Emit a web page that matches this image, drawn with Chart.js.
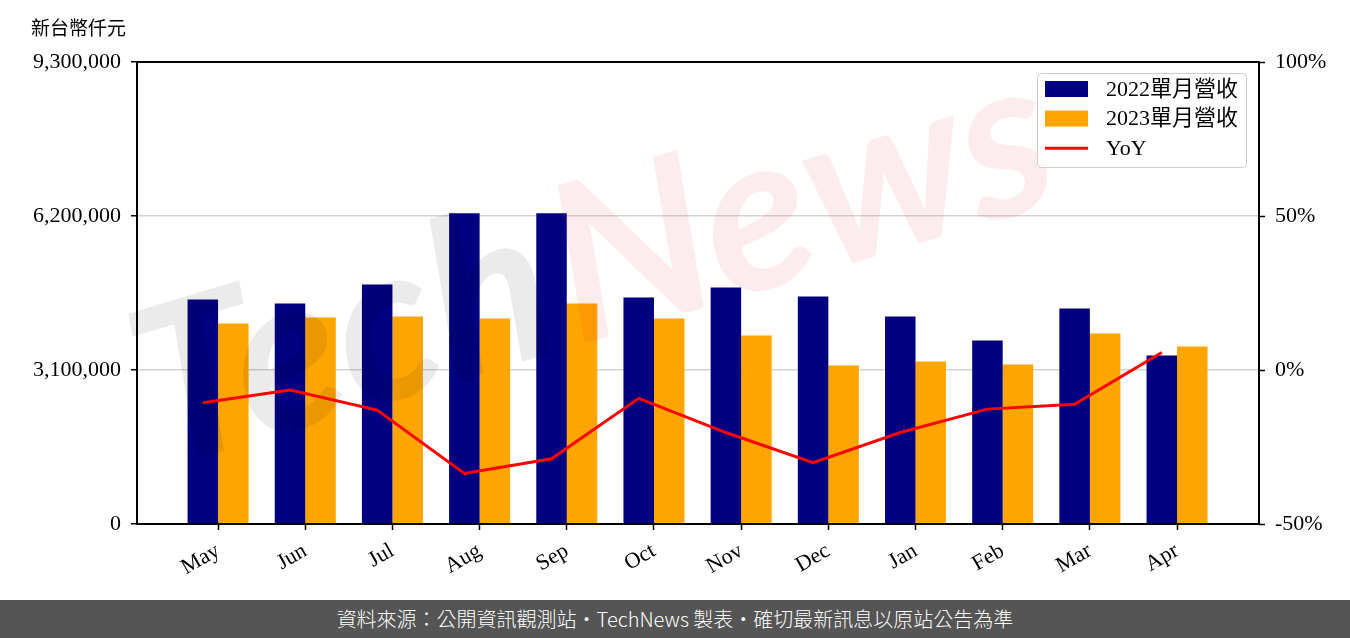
<!DOCTYPE html>
<html lang="zh-TW">
<head>
<meta charset="utf-8">
<script src="https://cdn.jsdelivr.net/npm/chart.js@4.4.0/dist/chart.umd.min.js"></script>
<style>
  body { margin: 0; background: #fff; }
  #wrap { width: 1350px; height: 600px; }
  #foot {
    width: 1350px; height: 38px; background: #555555; color: #fff;
    font: 300 20px 'Noto Sans CJK TC', sans-serif; text-align: center; line-height: 38px;
  }
</style>
</head>
<body>
<div id="wrap"><canvas id="grafico" width="1350" height="600"></canvas></div>
<div id="foot" lang="zh-TW">資料來源：公開資訊觀測站・TechNews 製表・確切最新訊息以原站公告為準</div>
<script>
// datos
const months = ['May', 'Jun', 'Jul', 'Aug', 'Sep', 'Oct', 'Nov', 'Dec', 'Jan', 'Feb', 'Mar', 'Apr']
const rev2022 = [4518000, 4438000, 4820000, 6255000, 6255000, 4558000, 4760000, 4578000, 4176000, 3692000, 4337000, 3390000]
const rev2023 = [4035000, 4156000, 4176000, 4135000, 4438000, 4135000, 3793000, 3189000, 3269000, 3209000, 3833000, 3571000]
const yoy = [-10.6, -6.5, -13.0, -33.6, -28.8, -9.2, -20.3, -30.1, -20.3, -12.7, -11.1, 5.7]
const leftTicks = [0, 3100000, 6200000, 9300000]
const rightTicks = [-50, 0, 50, 100]

const serif = "'Liberation Serif', 'Noto Sans CJK TC', serif"
Chart.defaults.font.family = serif
Chart.defaults.font.size = 22
Chart.defaults.color = '#000'

// marca de agua TechNews encima de las barras, debajo de la linea
const watermark = {
  id: 'watermark',
  beforeDatasetDraw(chart, args) {
    if (args.index !== 2) return
    const c = chart.ctx
    c.save()
    c.translate(160, 470)
    c.rotate(-0.29)
    c.font = 'italic bold 220px Lato'
    c.fillStyle = 'rgba(0,0,0,0.08)'
    c.fillText('Tech', 0, 0)
    const w = c.measureText('Tech').width
    c.fillStyle = 'rgba(220,40,50,0.09)'
    c.fillText('News', w + 10, 0)
    c.restore()
  }
}

const frame = {
  id: 'frame',
  afterDatasetsDraw(chart) {
    const a = chart.chartArea
    const c = chart.ctx
    c.save()
    c.strokeStyle = '#000'
    c.lineWidth = 2
    c.strokeRect(a.left, a.top, a.right - a.left, a.bottom - a.top)
    c.restore()
  }
}

// leyenda dibujada a mano dentro del area del grafico
const legendBox = {
  id: 'legendBox',
  afterDraw(chart) {
    const c = chart.ctx
    c.save()
    c.beginPath()
    c.roundRect(1037.5, 73.5, 209, 94, 4)
    c.fillStyle = 'rgba(255,255,255,0.8)'
    c.fill()
    c.strokeStyle = '#cccccc'
    c.lineWidth = 1
    c.stroke()
    chart.data.datasets.forEach((ds, i) => {
      const y = 89 + i * 29.6
      if (ds.type === 'bar') {
        c.fillStyle = ds.backgroundColor
        c.fillRect(1045, y - 8, 43, 16)
      } else {
        c.strokeStyle = ds.borderColor
        c.lineWidth = 3
        c.beginPath()
        c.moveTo(1045, y)
        c.lineTo(1088, y)
        c.stroke()
      }
      c.fillStyle = '#000'
      c.font = '22px ' + serif
      c.textBaseline = 'middle'
      c.fillText(ds.label, 1106, y + 1)
    })
    // titulo del eje
    c.font = "19px 'Noto Sans CJK TC', sans-serif"
    c.fillText('新台幣仟元', 31, 28)
    c.restore()
  }
}

const ctx = document.getElementById('grafico').getContext('2d')
let chart = new Chart(ctx, {
  data: {
    datasets: [{
      type: 'bar',
      label: '2022單月營收',
      data: rev2022.map((v, i) => ({ x: i, y: v })),
      backgroundColor: '#000080',
      yAxisID: 'y',
      order: 1,
      categoryPercentage: 0.7,
      barPercentage: 1
    }, {
      type: 'bar',
      label: '2023單月營收',
      data: rev2023.map((v, i) => ({ x: i, y: v })),
      backgroundColor: '#FFA500',
      yAxisID: 'y',
      order: 1,
      categoryPercentage: 0.7,
      barPercentage: 1
    }, {
      type: 'line',
      label: 'YoY',
      // la linea pasa por el centro de la barra 2022
      data: yoy.map((v, i) => ({ x: i - 0.175, y: v })),
      borderColor: '#FF0000',
      borderWidth: 3,
      pointRadius: 0,
      tension: 0,
      yAxisID: 'y1',
      order: 0
    }]
  },
  options: {
    responsive: false,
    animation: false,
    devicePixelRatio: 1,
    layout: { padding: { top: 62, left: 0, right: 0, bottom: 0 } },
    plugins: { legend: { display: false }, tooltip: { enabled: false } },
    scales: {
      x: {
        type: 'linear',
        offset: false,
        min: -0.93,
        max: 11.94,
        border: { display: false },
        grid: { offset: false, drawOnChartArea: false, tickColor: '#000', tickLength: 6, tickWidth: 1.5 },
        ticks: {
          autoSkip: false,
          minRotation: 30,
          maxRotation: 30,
          padding: 8,
          callback: v => months[v] ?? ''
        },
        afterBuildTicks: axis => { axis.ticks = months.map((m, i) => ({ value: i })) },
        afterFit: axis => { axis.height = 76 }
      },
      y: {
        position: 'left',
        min: 0,
        max: 9300000,
        border: { display: false },
        grid: { color: '#d3d3d3', lineWidth: 1.5, tickColor: '#000', tickLength: 6, tickWidth: 1.5 },
        ticks: { padding: 10, callback: v => v.toLocaleString('en-US') },
        afterBuildTicks: axis => { axis.ticks = leftTicks.map(v => ({ value: v })) },
        afterFit: axis => { axis.width = 137 }
      },
      y1: {
        position: 'right',
        min: -50,
        max: 100,
        border: { display: false },
        grid: { drawOnChartArea: false, tickColor: '#000', tickLength: 6, tickWidth: 1.5 },
        ticks: { padding: 10, callback: v => v + '%' },
        afterBuildTicks: axis => { axis.ticks = rightTicks.map(v => ({ value: v })) },
        afterFit: axis => { axis.width = 91 }
      }
    }
  },
  plugins: [watermark, frame, legendBox]
})
</script>
</body>
</html>
